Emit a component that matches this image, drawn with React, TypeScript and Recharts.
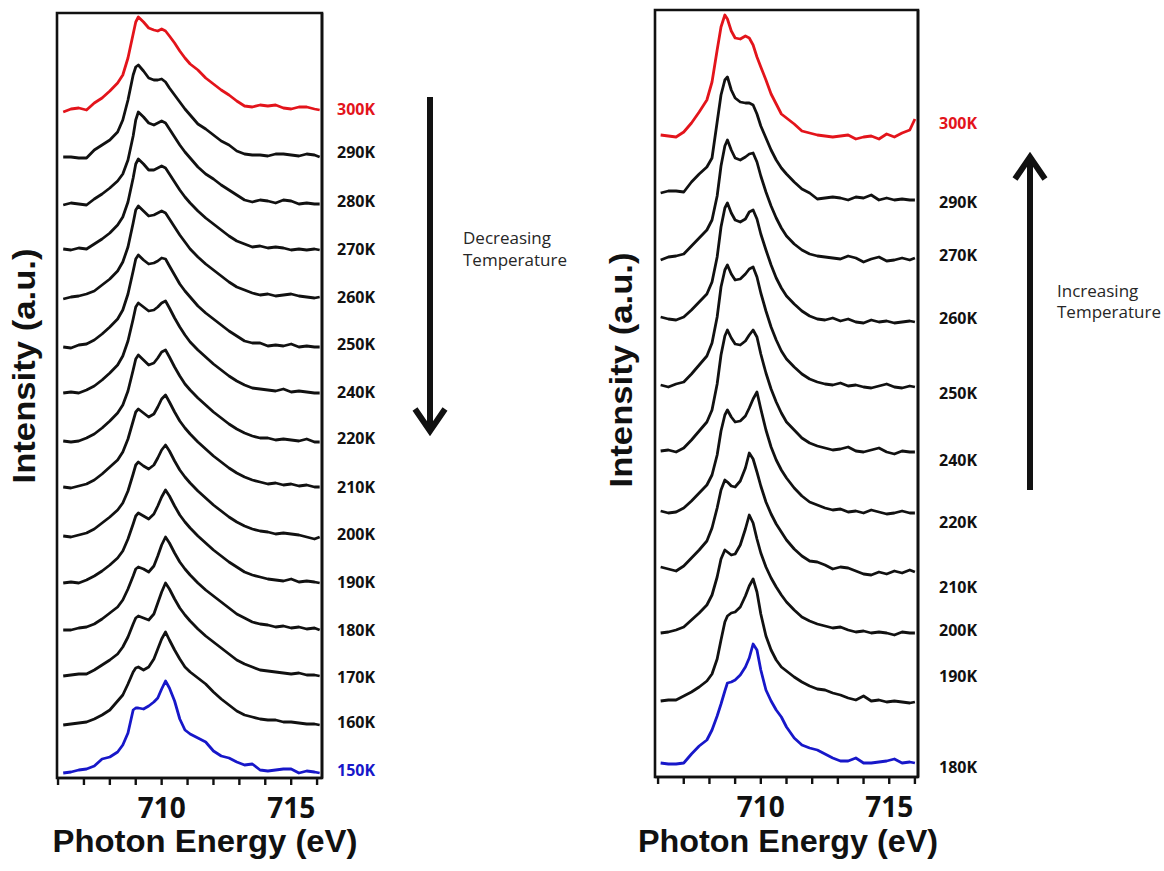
import { Line, LineChart, ReferenceArea, XAxis, YAxis } from "recharts";

// photon energy grids (eV), one per panel
const leftEnergy = [
  706.2, 706.5, 706.8, 707.1, 707.4, 707.7, 708.0, 708.3, 708.5, 708.7,
  708.9, 709.0, 709.1, 709.3, 709.5, 709.7, 709.85, 710.0, 710.15, 710.3,
  710.5, 710.7, 710.9, 711.1, 711.4, 711.7, 712.0, 712.3, 712.6, 712.9,
  713.2, 713.5, 713.8, 714.1, 714.4, 714.7, 715.0, 715.3, 715.6, 715.9, 716.1,
];
const rightEnergy = [
  706.1, 706.4, 706.7, 707.0, 707.3, 707.6, 707.9, 708.1, 708.3, 708.45,
  708.6, 708.7, 708.85, 709.0, 709.2, 709.4, 709.55, 709.7, 709.85, 710.0,
  710.2, 710.4, 710.6, 710.8, 711.0, 711.3, 711.6, 711.9, 712.2, 712.5,
  712.8, 713.1, 713.4, 713.7, 714.0, 714.3, 714.6, 714.9, 715.2, 715.5, 715.8, 716.0,
];

// left panel (cooling), intensity in a.u. above each trace's own baseline
const left300 = [-2, 1, 2, 0, 7, 12, 19, 27, 35, 52, 76, 88, 93, 88, 82, 80, 79, 81, 79, 74, 67, 59, 52, 46, 40, 32, 26, 20, 15, 9, 4, 3, 5, 4, 5, 2, 1, 3, 3, 1, 0];
const left290 = [0, 0, -1, -1, 7, 12, 17, 25, 37, 57, 82, 90, 92, 86, 79, 77, 77, 78, 75, 69, 62, 55, 48, 42, 33, 28, 22, 16, 12, 6, 3, 2, 2, 1, 3, 3, 2, 1, 3, 2, 0];
const left280 = [-1, 1, 0, -1, 5, 10, 16, 23, 30, 44, 68, 84, 92, 87, 81, 79, 81, 83, 81, 75, 67, 59, 52, 46, 37, 30, 25, 19, 14, 9, 4, 2, 4, 3, 1, 4, 3, 0, 1, 0, 0];
const left270 = [1, 0, 2, 1, 6, 11, 17, 25, 33, 48, 72, 86, 91, 86, 80, 80, 82, 84, 82, 76, 68, 60, 53, 47, 39, 32, 26, 20, 14, 9, 6, 3, 4, 2, 3, 2, 0, 1, 0, 1, 0];
const left260 = [-2, 0, 1, 3, 6, 12, 18, 26, 35, 50, 74, 87, 91, 86, 81, 82, 84, 86, 84, 78, 70, 62, 55, 48, 40, 33, 27, 21, 15, 10, 7, 4, 2, 3, 1, 2, 3, 1, 0, -1, 0];
const left250 = [0, -1, 2, 3, 7, 13, 20, 28, 37, 53, 76, 88, 92, 87, 83, 84, 86, 89, 88, 81, 72, 63, 56, 50, 41, 34, 28, 22, 16, 11, 6, 4, 4, 1, 2, 1, 3, 0, 1, 0, 0];
const left240 = [0, 1, 0, 3, 7, 13, 20, 28, 37, 52, 74, 86, 90, 86, 82, 83, 86, 90, 92, 85, 75, 66, 58, 51, 43, 36, 29, 23, 17, 12, 8, 5, 4, 3, 2, 4, 1, 2, 1, 0, 0];
const left220 = [1, 0, 1, 4, 8, 14, 21, 29, 37, 51, 72, 83, 87, 82, 77, 79, 84, 90, 92, 85, 75, 66, 58, 52, 44, 37, 30, 24, 18, 13, 9, 6, 4, 4, 2, 3, 2, 1, 3, 0, 0];
const left210 = [0, -1, 1, 3, 7, 13, 20, 27, 35, 48, 66, 75, 78, 74, 70, 73, 80, 88, 92, 85, 75, 66, 59, 53, 45, 38, 31, 25, 19, 14, 10, 7, 5, 3, 4, 2, 3, 1, 2, 0, 0];
const left200 = [1, 0, 2, 4, 8, 14, 20, 27, 34, 46, 63, 72, 75, 71, 68, 72, 79, 87, 92, 86, 76, 67, 60, 54, 46, 39, 32, 26, 20, 15, 11, 8, 6, 5, 3, 4, 3, 2, 0, -2, 0];
const left190 = [0, 1, 0, 3, 7, 12, 18, 25, 32, 44, 59, 67, 70, 67, 64, 69, 77, 86, 93, 87, 77, 68, 61, 55, 47, 40, 33, 27, 21, 16, 11, 8, 6, 4, 3, 2, 4, 1, 2, 1, 0];
const left180 = [0, 0, 2, 3, 6, 11, 17, 23, 30, 41, 54, 61, 63, 61, 58, 64, 74, 85, 93, 87, 77, 68, 61, 55, 47, 40, 34, 28, 22, 16, 12, 8, 6, 5, 3, 4, 2, 3, 1, 2, 0];
const left170 = [0, 1, 2, 2, 6, 11, 16, 22, 29, 39, 52, 58, 60, 58, 56, 62, 73, 84, 93, 87, 77, 68, 61, 55, 47, 40, 34, 28, 22, 16, 12, 9, 6, 5, 4, 3, 2, 3, 1, 1, 0];
const left160 = [0, 1, 2, 3, 6, 10, 15, 24, 30, 41, 53, 57, 58, 55, 58, 66, 76, 86, 93, 85, 75, 66, 58, 53, 47, 41, 33, 26, 20, 14, 10, 8, 6, 5, 5, 3, 3, 2, 1, 1, 0];
const left150 = [0, 1, 3, 4, 7, 14, 16, 21, 28, 40, 63, 65, 65, 64, 67, 71, 75, 84, 92, 85, 72, 54, 43, 39, 35, 31, 22, 17, 15, 11, 8, 9, 3, 2, 3, 4, 4, 0, 2, 1, 0];

// right panel (warming)
const right300 = [2, 1, 0, 5, 14, 25, 37, 55, 87, 110, 122, 118, 106, 99, 98, 101, 99, 92, 80, 70, 57, 43, 33, 23, 19, 13, 6, 4, 2, 1, 0, 1, 2, -2, 0, 1, -2, 3, 0, 4, 7, 18];
const right290 = [7, 9, 9, 8, 18, 26, 33, 42, 78, 105, 120, 123, 110, 102, 98, 97, 97, 95, 86, 74, 62, 50, 40, 32, 26, 18, 11, 7, 1, 2, 3, 2, 0, 3, 2, 5, 0, 2, 0, 1, 0, 0];
const right270 = [-2, 1, 2, 4, 12, 20, 28, 38, 62, 92, 112, 118, 108, 100, 98, 101, 104, 105, 96, 82, 66, 52, 40, 30, 22, 14, 8, 4, 2, 1, 0, -1, 2, 0, -4, -1, 1, -3, -2, 0, -2, 0];
const right260 = [5, 3, 2, 5, 12, 20, 28, 40, 65, 95, 114, 119, 109, 102, 100, 103, 110, 112, 103, 88, 72, 57, 44, 34, 26, 18, 11, 6, 3, 2, 4, 1, 3, 0, -1, 2, 0, 1, -1, 0, 1, 0];
const right250 = [2, 0, 3, 5, 13, 22, 31, 44, 70, 100, 117, 122, 113, 107, 108, 113, 118, 120, 110, 94, 76, 60, 47, 36, 28, 20, 13, 8, 5, 3, 2, 4, 1, 2, 0, -1, 1, 3, 0, -1, 1, 0];
const right240 = [1, 2, 0, 4, 12, 21, 30, 42, 68, 97, 116, 122, 114, 108, 107, 111, 117, 122, 115, 98, 79, 63, 50, 39, 30, 22, 14, 9, 6, 4, 2, 3, 5, 1, 0, 2, 4, 0, -2, 1, 0, 0];
const right220 = [2, 0, 1, 5, 12, 20, 28, 38, 58, 82, 98, 103, 96, 91, 92, 97, 105, 114, 121, 104, 83, 66, 53, 43, 35, 25, 17, 11, 8, 5, 3, 4, 1, 2, 0, 3, 1, -1, 0, 2, 0, 0];
const right210 = [5, 3, 1, 6, 14, 22, 31, 44, 64, 82, 92, 90, 86, 85, 91, 104, 119, 113, 100, 86, 70, 58, 48, 40, 32, 23, 16, 11, 10, 7, 3, 5, 4, 1, -2, -3, 0, -2, 1, -1, 2, 0];
const right200 = [0, 1, 3, 6, 13, 20, 28, 38, 56, 74, 83, 81, 78, 79, 88, 104, 118, 110, 94, 80, 66, 55, 46, 38, 31, 23, 16, 12, 9, 7, 5, 6, 3, 1, 2, 0, 1, 0, -2, 1, 0, 0];
const right190 = [1, 2, 2, 6, 10, 15, 21, 28, 43, 62, 80, 86, 89, 90, 95, 106, 116, 123, 110, 88, 66, 52, 42, 35, 31, 25, 20, 16, 13, 12, 9, 7, 4, 2, 6, 1, 2, 0, 1, 0, -1, 0];
const right180 = [0, -1, -1, 0, 9, 17, 23, 33, 47, 59, 72, 80, 81, 83, 88, 96, 105, 119, 113, 93, 73, 62, 53, 46, 36, 25, 18, 15, 13, 9, 5, 2, 2, 5, 0, 0, 1, 2, 4, 0, 1, 0];

const leftTemps = ["300K", "290K", "280K", "270K", "260K", "250K", "240K", "220K", "210K", "200K", "190K", "180K", "170K", "160K", "150K"];
const leftOffsets = [663, 616, 569, 523, 476, 426, 380, 331, 286, 236, 190, 143, 97, 48, 0];
const leftLabelAt = [664, 621, 572, 524, 476, 429, 381, 335, 286, 239, 191, 143, 96, 51, 3];

const rightTemps = ["300K", "290K", "270K", "260K", "250K", "240K", "220K", "210K", "200K", "190K", "180K"];
const rightOffsets = [626, 563, 505, 441, 376, 311, 250, 191, 130, 61, 0];
const rightLabelAt = [640, 561, 508, 445, 370, 303, 241, 176, 133, 87, -4];

const energyTicks = [706, 707, 708, 709, 710, 711, 712, 713, 714, 715, 716];
const labeledTicks = [710, 715];

const leftSeries = [left300, left290, left280, left270, left260, left250, left240, left220, left210, left200, left190, left180, left170, left160, left150];
const rightSeries = [right300, right290, right270, right260, right250, right240, right220, right210, right200, right190, right180];

const RED = "#e3141b";
const BLUE = "#1717c9";
const INK = "#111";

function buildRows(energy: number[], series: number[][], offsets: number[], keys: string[]) {
  return energy.map((e, i) => {
    const row: Record<string, number> = { e };
    series.forEach((values, k) => {
      row[keys[k]] = values[i] + offsets[k];
    });
    return row;
  });
}

const frameLine = { stroke: INK, strokeWidth: 2.6 };

type PanelProps = {
  energy: number[];
  series: number[][];
  offsets: number[];
  temps: string[];
  labelAt: number[];
  labelColors: string[];
  lineColors: string[];
  xDomain: [number, number];
  yDomain: [number, number];
  width: number;
  left: number;
  top: number;
  xAxisHeight: number;
  labelWidth: number;
  labelGap: number;
};

function Panel(p: PanelProps) {
  const keys = p.temps.map((t) => "t" + t);
  const data = buildRows(p.energy, p.series, p.offsets, keys);
  const renderTemp = (t: any) => {
    const idx = p.labelAt.indexOf(t.payload.value);
    return (
      <text
        x={t.x}
        y={t.y}
        textAnchor="start"
        dominantBaseline="central"
        fill={p.labelColors[idx]}
        style={{ fontFamily: "'Open Sans', sans-serif", fontWeight: 700, fontSize: 16 }}
      >
        {p.temps[idx]}
      </text>
    );
  };
  return (
    <LineChart
      width={p.width}
      height={871}
      data={data}
      margin={{ top: p.top, right: 0, bottom: 0, left: p.left }}
    >
      <XAxis
        dataKey="e"
        type="number"
        domain={p.xDomain}
        allowDataOverflow
        ticks={energyTicks}
        interval={0}
        height={p.xAxisHeight}
        tickSize={7}
        tickMargin={13}
        tickFormatter={(v: number) => (labeledTicks.includes(v) ? String(v) : "")}
        tick={{ fill: INK, fontSize: 28, fontWeight: 700, fontFamily: "'Open Sans', sans-serif" }}
        tickLine={{ stroke: INK, strokeWidth: 2.4 }}
        axisLine={frameLine}
      />
      <YAxis
        yAxisId="temp"
        orientation="right"
        type="number"
        domain={p.yDomain}
        allowDataOverflow
        width={p.labelWidth}
        ticks={p.labelAt}
        interval={0}
        tickSize={0}
        tickMargin={p.labelGap}
        tickLine={false}
        tick={renderTemp}
        axisLine={frameLine}
      />
      {keys.map((k, i) => (
        <Line
          key={k}
          yAxisId="temp"
          type="linear"
          dataKey={k}
          stroke={p.lineColors[i]}
          strokeWidth={2.8}
          strokeLinejoin="round"
          dot={false}
          activeDot={false}
          isAnimationActive={false}
        />
      ))}
      <ReferenceArea
        yAxisId="temp"
        x1={p.xDomain[0]}
        x2={p.xDomain[1]}
        y1={p.yDomain[0]}
        y2={p.yDomain[1]}
        fill="none"
        fillOpacity={0}
        stroke={INK}
        strokeWidth={2.6}
        ifOverflow="visible"
      />
    </LineChart>
  );
}

const titleFont = {
  fontFamily: "'Liberation Sans', Arial, sans-serif",
  fontWeight: 700,
  fontSize: 31,
  fill: INK,
};
const noteFont = {
  fontFamily: "'Open Sans', sans-serif",
  fontSize: 17,
  fill: "#262626",
};

export default function App() {
  const leftLineColors = leftTemps.map((_, i) => (i === 0 ? RED : i === leftTemps.length - 1 ? BLUE : INK));
  const leftLabelColors = leftLineColors;
  const rightLineColors = rightTemps.map((_, i) => (i === 0 ? RED : i === rightTemps.length - 1 ? BLUE : INK));
  const rightLabelColors = rightTemps.map((_, i) => (i === 0 ? RED : INK));

  return (
    <div style={{ position: "absolute", left: 0, top: 0, width: 1164, height: 871, background: "#fff", overflow: "hidden" }}>
      <div style={{ position: "absolute", left: 0, top: 0 }}>
        <Panel
          energy={leftEnergy}
          series={leftSeries}
          offsets={leftOffsets}
          temps={leftTemps}
          labelAt={leftLabelAt}
          labelColors={leftLabelColors}
          lineColors={leftLineColors}
          xDomain={[705.96, 716.19]}
          yDomain={[-5, 760]}
          width={400}
          left={57}
          top={13}
          xAxisHeight={93}
          labelWidth={78}
          labelGap={15}
        />
      </div>
      <div style={{ position: "absolute", left: 600, top: 0 }}>
        <Panel
          energy={rightEnergy}
          series={rightSeries}
          offsets={rightOffsets}
          temps={rightTemps}
          labelAt={rightLabelAt}
          labelColors={rightLabelColors}
          lineColors={rightLineColors}
          xDomain={[705.88, 716.12]}
          yDomain={[-14, 753]}
          width={564}
          left={55}
          top={10}
          xAxisHeight={94}
          labelWidth={246}
          labelGap={21}
        />
      </div>
      <svg width={1164} height={871} style={{ position: "absolute", left: 0, top: 0, pointerEvents: "none" }}>
        <text transform="translate(24,366) rotate(-90)" textAnchor="middle" dominantBaseline="central" textLength={235} lengthAdjust="spacingAndGlyphs" style={titleFont}>
          Intensity (a.u.)
        </text>
        <text transform="translate(621,370) rotate(-90)" textAnchor="middle" dominantBaseline="central" textLength={235} lengthAdjust="spacingAndGlyphs" style={titleFont}>
          Intensity (a.u.)
        </text>
        <text x={205} y={852} textAnchor="middle" textLength={305} lengthAdjust="spacingAndGlyphs" style={titleFont}>
          Photon Energy (eV)
        </text>
        <text x={788} y={852} textAnchor="middle" textLength={300} lengthAdjust="spacingAndGlyphs" style={titleFont}>
          Photon Energy (eV)
        </text>

        <line x1={430} y1={97} x2={430} y2={428} stroke={INK} strokeWidth={6} />
        <polyline points="415,409 430,431 445,409" fill="none" stroke={INK} strokeWidth={6} />
        <text x={463} y={237} dominantBaseline="central" style={noteFont}>Decreasing</text>
        <text x={463} y={259} dominantBaseline="central" style={noteFont}>Temperature</text>

        <line x1={1030} y1={490} x2={1030} y2={160} stroke={INK} strokeWidth={6} />
        <polyline points="1015,179 1030,157 1045,179" fill="none" stroke={INK} strokeWidth={6} />
        <text x={1057} y={290} dominantBaseline="central" style={noteFont}>Increasing</text>
        <text x={1057} y={311} dominantBaseline="central" style={noteFont}>Temperature</text>
      </svg>
    </div>
  );
}
